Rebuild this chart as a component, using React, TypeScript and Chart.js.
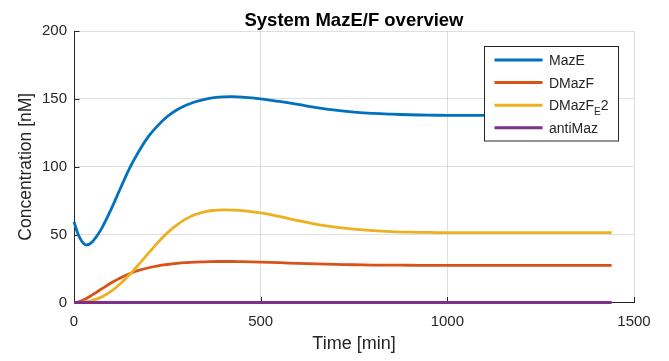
import { useEffect, useRef } from 'react';
import { Chart, registerables } from 'chart.js';

Chart.register(...registerables);

// Simulation output, sampled in minutes
const timeMin = [0, 10, 20, 30, 40, 50, 60, 75, 100, 125, 150, 175, 200, 225, 250, 275, 300, 325, 350, 375, 400, 425, 450, 500, 550, 600, 650, 700, 750, 800, 850, 900, 950, 1000, 1100, 1200, 1300, 1440];

const mazE = [59.5, 51, 45.5, 42.6, 42.8, 45, 48.5, 55, 69, 84.5, 99.5, 112, 122.5, 130.5, 137, 141.8, 145.3, 147.9, 149.7, 150.9, 151.5, 151.6, 151.3, 150, 148.1, 145.9, 143.6, 141.7, 140.3, 139.3, 138.7, 138.3, 138, 137.9, 137.8, 137.8, 137.8, 137.8];

const dMazF = [0, 0.3, 1.2, 2.5, 4.1, 5.8, 7.5, 10.2, 14.5, 18.3, 21.4, 23.8, 25.6, 27, 28, 28.8, 29.4, 29.8, 30, 30.15, 30.2, 30.2, 30.1, 29.8, 29.3, 28.8, 28.4, 28.05, 27.8, 27.6, 27.5, 27.45, 27.4, 27.4, 27.4, 27.4, 27.4, 27.4];

const dMazFE2 = [0, 0, 0.1, 0.4, 0.9, 1.6, 2.5, 4.2, 8.3, 14, 20.8, 28.5, 36.5, 44.3, 51.3, 57, 61.6, 64.8, 66.8, 67.8, 68.2, 68.1, 67.7, 66, 63.4, 60.3, 57.6, 55.5, 54, 52.9, 52.2, 51.8, 51.6, 51.5, 51.4, 51.5, 51.5, 51.5];

const antiMaz = [0, 0, 0, 0, 0, 0, 0, 0, 0, 0, 0, 0, 0, 0, 0, 0, 0, 0, 0, 0, 0, 0, 0, 0, 0, 0, 0, 0, 0, 0, 0, 0, 0, 0, 0, 0, 0, 0];

const seriesNames = ['MazE', 'DMazF', 'DMazF_E2', 'antiMaz'];
const seriesValues = [mazE, dMazF, dMazFE2, antiMaz];
const seriesColors = ['#0072BD', '#D95319', '#EDB120', '#7E2F8E'];

const xTicks = [0, 500, 1000, 1500];
const yTicks = [0, 50, 100, 150, 200];

const titleText = 'System MazE/F overview';
const xLabel = 'Time [min]';
const yLabel = 'Concentration [nM]';

const FONT = '"Liberation Sans", Arial, Helvetica, sans-serif';
const AXIS_COLOR = '#262626';
const GRID_COLOR = 'rgba(38,38,38,0.15)';

// Tick marks pointing into the plot area
const inwardTicks = {
  id: 'inwardTicks',
  beforeDatasetsDraw(chart: any) {
    const { ctx, chartArea, scales } = chart;
    const len = 5.5;
    ctx.save();
    ctx.strokeStyle = AXIS_COLOR;
    ctx.lineWidth = 1;
    ctx.beginPath();
    xTicks.forEach((v) => {
      const x = Math.round(scales.x.getPixelForValue(v)) + 0.5;
      ctx.moveTo(x, chartArea.bottom);
      ctx.lineTo(x, chartArea.bottom - len);
    });
    yTicks.forEach((v) => {
      const y = Math.round(scales.y.getPixelForValue(v)) + 0.5;
      ctx.moveTo(chartArea.left, y);
      ctx.lineTo(chartArea.left + len, y);
    });
    ctx.stroke();
    ctx.restore();
  },
};

// Title centred over the axes
const titleDraw = {
  id: 'titleDraw',
  afterDraw(chart: any) {
    const { ctx, chartArea } = chart;
    ctx.save();
    ctx.font = `bold 18.5px ${FONT}`;
    ctx.fillStyle = '#000000';
    ctx.textAlign = 'center';
    ctx.textBaseline = 'alphabetic';
    ctx.fillText(titleText, (chartArea.left + chartArea.right) / 2, 25.5);
    ctx.restore();
  },
};

// Draws a name where "_X" means subscript X
function drawRichName(ctx: CanvasRenderingContext2D, name: string, x: number, baseline: number) {
  const parts: { text: string; sub: boolean }[] = [];
  let buf = '';
  for (let i = 0; i < name.length; i++) {
    if (name[i] === '_' && i + 1 < name.length) {
      if (buf) parts.push({ text: buf, sub: false });
      buf = '';
      parts.push({ text: name[i + 1], sub: true });
      i++;
    } else {
      buf += name[i];
    }
  }
  if (buf) parts.push({ text: buf, sub: false });
  let cx = x;
  parts.forEach((p) => {
    ctx.font = p.sub ? `10px ${FONT}` : `14px ${FONT}`;
    ctx.fillText(p.text, cx, p.sub ? baseline + 5 : baseline);
    cx += ctx.measureText(p.text).width;
  });
}

// Boxed legend in the upper right of the axes
const legendBox = {
  id: 'legendBox',
  afterDraw(chart: any) {
    const { ctx } = chart;
    const left = 484.5;
    const top = 46.5;
    const w = 134;
    const h = 94.5;
    ctx.save();
    ctx.fillStyle = '#ffffff';
    ctx.fillRect(left, top, w, h);
    ctx.strokeStyle = AXIS_COLOR;
    ctx.lineWidth = 1;
    ctx.strokeRect(left, top, w, h);
    chart.data.datasets.forEach((ds: any, i: number) => {
      const rowY = 60 + i * 22.6;
      ctx.strokeStyle = ds.borderColor;
      ctx.lineWidth = 3;
      ctx.beginPath();
      ctx.moveTo(494.5, rowY);
      ctx.lineTo(542.5, rowY);
      ctx.stroke();
      ctx.fillStyle = AXIS_COLOR;
      ctx.textAlign = 'left';
      ctx.textBaseline = 'alphabetic';
      drawRichName(ctx, ds.label, 549, rowY + 5);
    });
    ctx.restore();
  },
};

export default function App() {
  const canvasRef = useRef<HTMLCanvasElement | null>(null);

  useEffect(() => {
    const canvas = canvasRef.current;
    if (!canvas) return;
    const chart = new Chart(canvas, {
      type: 'line',
      data: {
        datasets: seriesNames.map((name, i) => ({
          label: name,
          data: timeMin.map((t, k) => ({ x: t, y: seriesValues[i][k] })),
          borderColor: seriesColors[i],
          backgroundColor: seriesColors[i],
          borderWidth: 2.8,
          pointRadius: 0,
          pointHoverRadius: 0,
          tension: 0.4,
          fill: false,
          clip: false,
          order: seriesNames.length - i,
        })),
      },
      options: {
        responsive: false,
        animation: false,
        events: [],
        layout: { padding: { left: 0, right: 35, top: 31, bottom: 0 } },
        plugins: {
          legend: { display: false },
          title: { display: false },
          tooltip: { enabled: false },
        },
        scales: {
          x: {
            type: 'linear',
            min: 0,
            max: 1500,
            afterBuildTicks: (scale: any) => {
              scale.ticks = xTicks.map((v) => ({ value: v }));
            },
            afterFit: (scale: any) => {
              scale.height = 58.5;
            },
            ticks: {
              font: { family: FONT, size: 15 },
              color: AXIS_COLOR,
              padding: 10,
              maxRotation: 0,
              autoSkip: false,
              callback: (v: any) => String(v),
            },
            grid: { color: GRID_COLOR, lineWidth: 1, drawTicks: false },
            border: { color: AXIS_COLOR, width: 1 },
            title: {
              display: true,
              text: xLabel,
              font: { family: FONT, size: 18 },
              color: AXIS_COLOR,
              padding: { top: 0, bottom: 6 },
            },
          },
          y: {
            type: 'linear',
            min: 0,
            max: 200,
            afterBuildTicks: (scale: any) => {
              scale.ticks = yTicks.map((v) => ({ value: v }));
            },
            afterFit: (scale: any) => {
              scale.width = 74;
            },
            ticks: {
              font: { family: FONT, size: 15 },
              color: AXIS_COLOR,
              padding: 7,
              autoSkip: false,
              callback: (v: any) => String(v),
            },
            grid: { color: GRID_COLOR, lineWidth: 1, drawTicks: false },
            border: { color: AXIS_COLOR, width: 1 },
            title: {
              display: true,
              text: yLabel,
              font: { family: FONT, size: 17.5 },
              color: AXIS_COLOR,
              padding: { top: 16, bottom: 0 },
            },
          },
        },
      },
      plugins: [inwardTicks, titleDraw, legendBox],
    } as any);
    return () => chart.destroy();
  }, []);

  return (
    <div style={{ position: 'absolute', left: 0, top: 0, width: 669, height: 361, background: '#ffffff' }}>
      <canvas ref={canvasRef} width={669} height={361} style={{ display: 'block', width: 669, height: 361 }} />
    </div>
  );
}
